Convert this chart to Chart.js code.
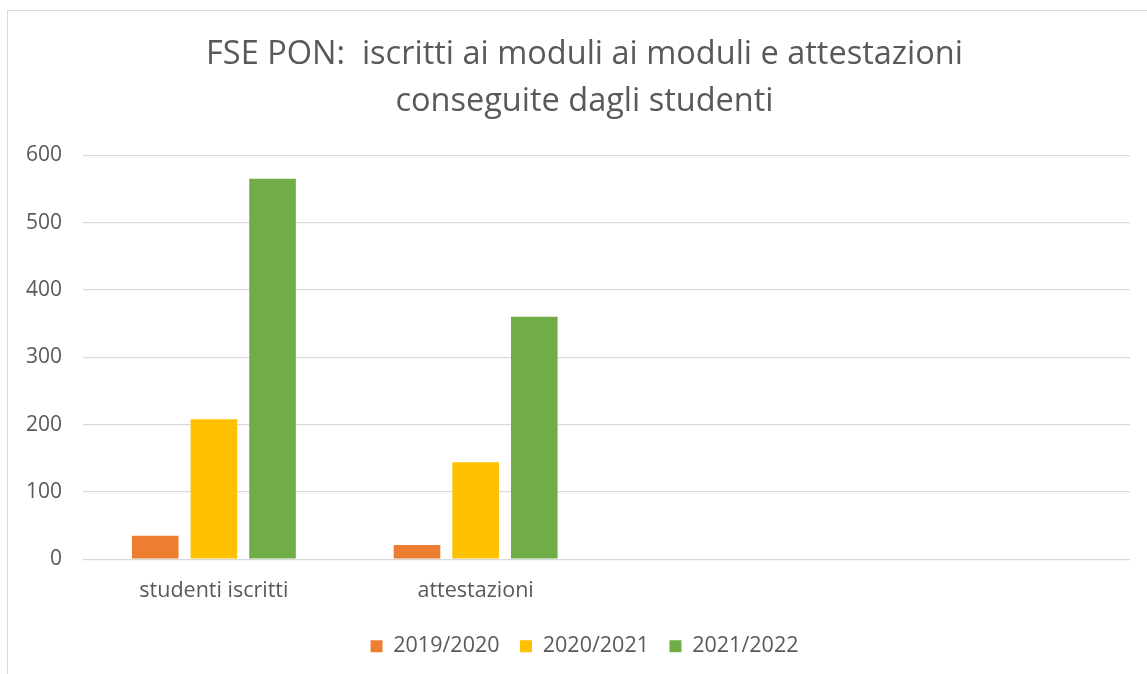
<!DOCTYPE html>
<html>
<head>
<meta charset="utf-8">
<script src="https://cdn.jsdelivr.net/npm/chart.js@4"></script>
<style>
  body { margin: 0; background: #fff; }
  #wrap { position: relative; width: 1147px; height: 674px; overflow: hidden; }
  #frame { position: absolute; left: 7px; top: 10px; width: 1200px; height: 700px; border-left: 1px solid #d9d9d9; border-top: 1px solid #d9d9d9; box-sizing: border-box; }
  canvas { position: absolute; left: 0; top: 0; }
</style>
</head>
<body>
<div id="wrap">
  <div id="frame"></div>
  <!-- the chart frame continues past the right edge of the picture, so the canvas is wider than the window -->
  <canvas id="grafico" width="1164" height="674"></canvas>
</div>
<script>
const categorie = ["studenti iscritti", "attestazioni", "", ""];
const anni = ["2019/2020", "2020/2021", "2021/2022"];
const valori2019 = [35, 21, null, null];
const valori2020 = [208, 144, null, null];
const valori2021 = [565, 360, null, null];
const colori = ["#ed7d31", "#ffc000", "#70ad47"];
const tickY = [0, 100, 200, 300, 400, 500, 600];

const grigio = "#595959";
const font = "'Open Sans', sans-serif";

function creaDataset(label, dati, colore) {
  return {
    label: label,
    data: dati,
    backgroundColor: colore,
    borderWidth: 0,
    categoryPercentage: 0.672,
    barPercentage: 0.795
  };
}

const ctx = document.getElementById("grafico");

new Chart(ctx, {
  type: "bar",
  data: {
    labels: categorie,
    datasets: [
      creaDataset(anni[0], valori2019, colori[0]),
      creaDataset(anni[1], valori2020, colori[1]),
      creaDataset(anni[2], valori2021, colori[2])
    ]
  },
  options: {
    responsive: false,
    animation: false,
    layout: { padding: { left: 5, right: 0, top: 14, bottom: 7 } },
    plugins: {
      title: {
        display: true,
        text: ["FSE PON:  iscritti ai moduli ai moduli e attestazioni", "conseguite dagli studenti"],
        color: grigio,
        font: { family: font, size: 32.5, weight: "normal", lineHeight: 1.45 },
        padding: { top: 17.5, bottom: 29.5 }
      },
      legend: {
        display: true,
        position: "bottom",
        labels: {
          color: grigio,
          font: { family: font, size: 21.5 },
          boxWidth: 12,
          boxHeight: 12,
          padding: 20.5
        }
      },
      tooltip: { enabled: false }
    },
    scales: {
      x: {
        grid: { display: false },
        border: { display: false },
        ticks: { color: grigio, font: { family: font, size: 21.5 }, padding: 11 }
      },
      y: {
        min: 0,
        max: 600,
        afterBuildTicks: function (scale) {
          scale.ticks = tickY.map(v => ({ value: v }));
        },
        grid: { color: "#d9d9d9", lineWidth: 1.3, drawTicks: false },
        border: { display: false },
        ticks: { color: grigio, font: { family: font, size: 21 }, padding: 21 }
      },
      // empty space between the plot and the right side of the frame
      margine: {
        type: "linear",
        position: "right",
        grid: { display: false },
        border: { display: false },
        ticks: { display: false },
        afterFit: function (scale) {
          scale.width = 34;
        }
      }
    }
  }
});
</script>
</body>
</html>
